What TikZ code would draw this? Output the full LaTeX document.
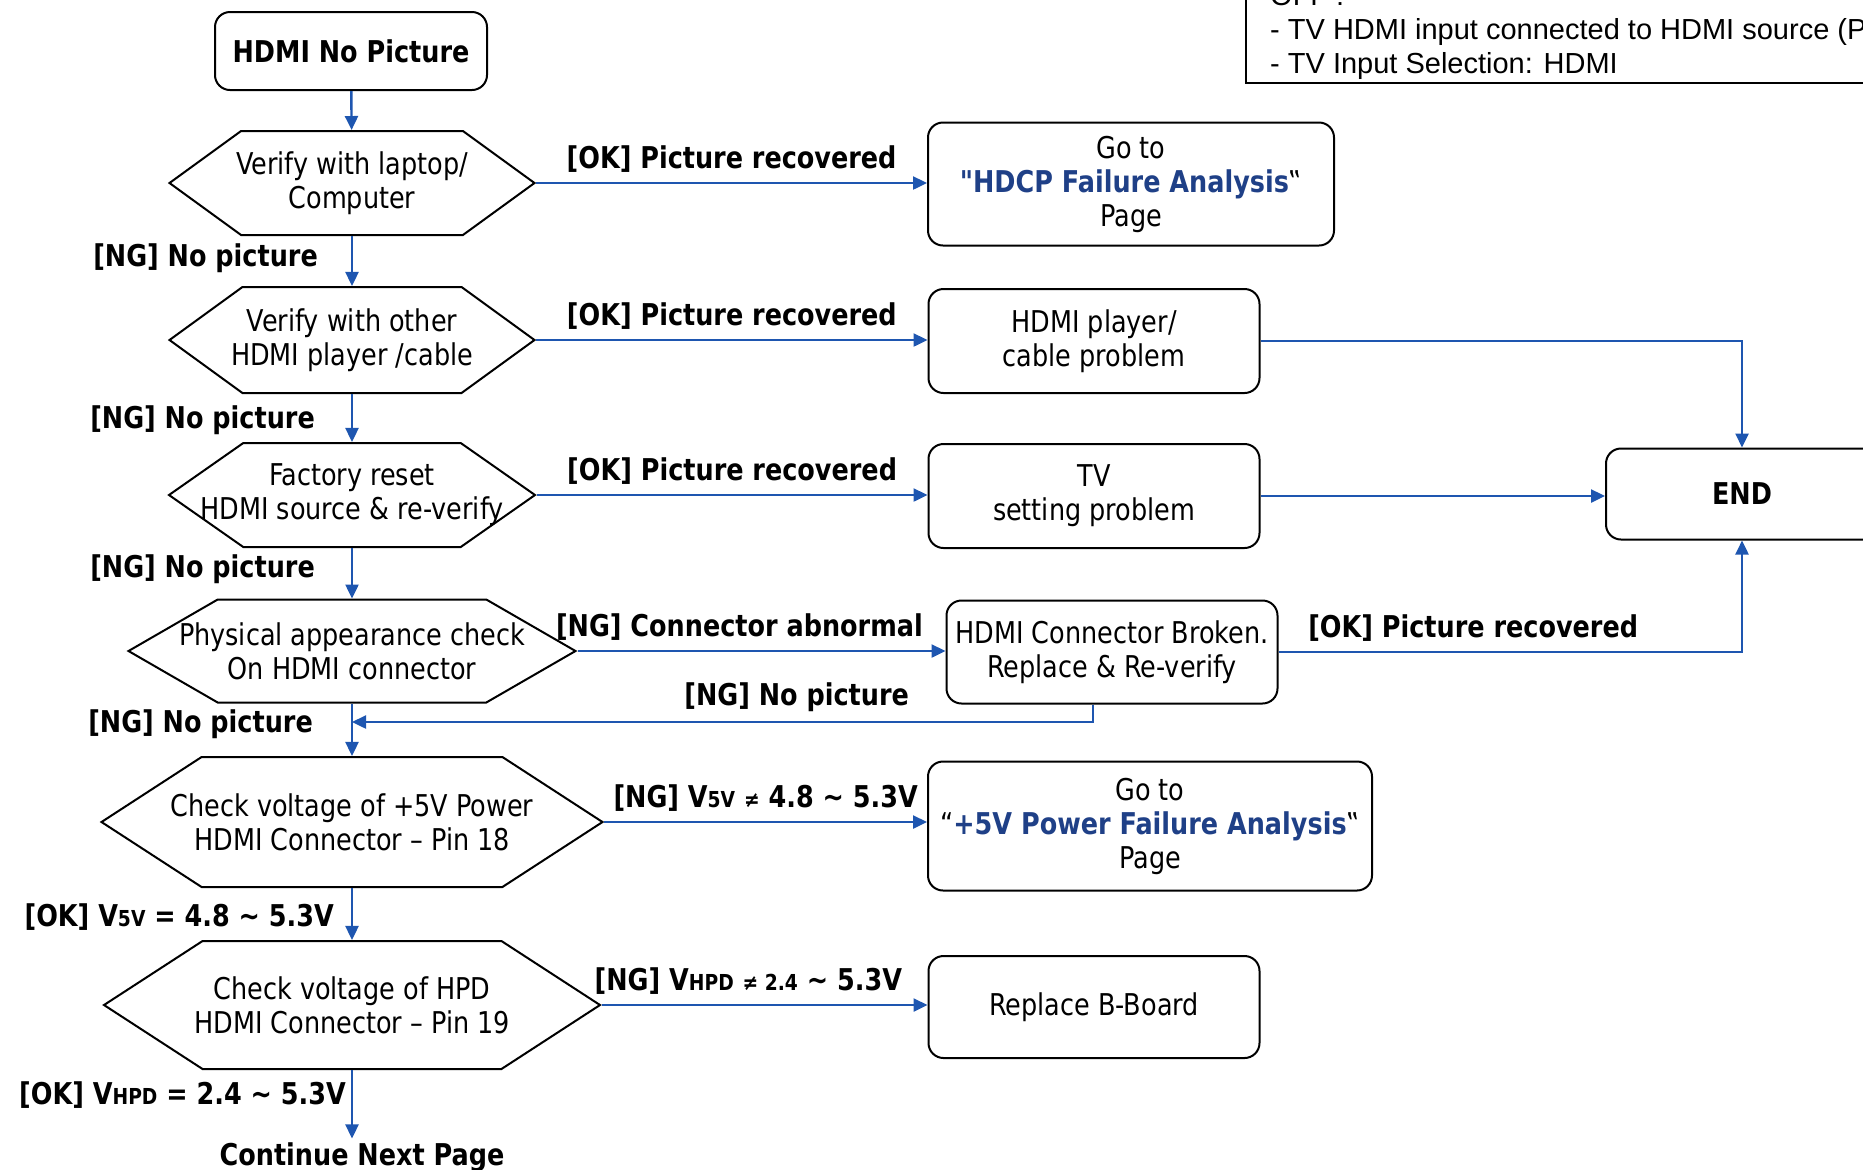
\documentclass[tikz,border=0pt]{standalone}
\usepackage{fontspec}
\setmainfont{DejaVu Sans}[FakeStretch=0.85]
\newfontfamily\notefont{Liberation Sans}
\usepackage{xcolor}
\usepackage{tikz}
\usetikzlibrary{arrows.meta,positioning,shapes.symbols,calc}

\definecolor{flowblue}{RGB}{30,86,176}
\definecolor{linkblue}{RGB}{31,64,135}
\newcommand{\smalltxt}[1]{{\fontsize{11pt}{11pt}\selectfont #1}}
% text line that may run over the hexagon's slanted edges
\newcommand{\hx}[1]{\makebox[0pt]{#1}}
\newcommand{\straightquote}{{\addfontfeatures{Ligatures=TeXOff}"}}

\begin{document}
\begin{tikzpicture}[
  x=0.5pt, y=-0.5pt,
  font=\fontsize{15pt}{17pt}\selectfont,
  box/.style={draw, line width=1pt, rounded corners=7.5pt, align=center, inner sep=2pt},
  hexa/.style={draw, line width=1pt, signal, signal to=west and east, signal pointer angle=#1, align=center, inner sep=1pt},
  arr/.style={-{Triangle[length=7pt,width=6.5pt]}, flowblue, line width=1.2pt},
  lbl/.style={font=\fontsize{15pt}{17pt}\selectfont\bfseries, text=black, inner sep=4.5pt},
  note/.style={draw, line width=1.2pt, align=left, inner xsep=12pt, inner ysep=1.5pt, font=\notefont\fontsize{14.5pt}{17pt}\selectfont}
]
  \useasboundingbox (0,0) rectangle (1863,1169);

  % main chain
  \node[box, font=\fontsize{15pt}{17pt}\selectfont\bfseries, minimum width=136pt, minimum height=39pt] (start) at (351,51) {HDMI No Picture};
  \node[hexa=72, minimum width=182.5pt, minimum height=52pt] (h1) at (352,183) {\hx{Verify with laptop/}\\\hx{Computer}};
  \node[hexa=72, minimum width=182.5pt, minimum height=53pt] (h2) at (352,340) {\hx{Verify with other}\\\hx{HDMI player /cable}};
  \node[hexa=70, minimum width=183pt, minimum height=52pt] (h3) at (352,495) {\hx{Factory reset}\\\hx{HDMI source \& re-verify}};
  \node[hexa=60, minimum width=223.5pt, minimum height=51.5pt] (h4) at (352,651) {\hx{Physical appearance check}\\\hx{On HDMI connector}};
  \node[hexa=66, minimum width=250.5pt, minimum height=65pt] (h5) at (352,822) {\hx{Check voltage of +5V Power}\\\hx{HDMI Connector -- Pin 18}};
  \node[hexa=66, minimum width=248pt, minimum height=64pt] (h6) at (352,1005) {\hx{Check voltage of HPD}\\\hx{HDMI Connector -- Pin 19}};
  \node[lbl, inner sep=1.75pt] (cont) at (362,1157) {Continue Next Page};

  % result boxes
  \node[box, minimum width=203pt, minimum height=61.5pt] (b1) at (1131,184) {Go to\\{\color{linkblue}\bfseries\straightquote HDCP Failure Analysis}‟\\Page};
  \node[box, minimum width=165.5pt, minimum height=52pt] (b2) at (1094,341) {HDMI player/\\cable problem};
  \node[box, minimum width=165.5pt, minimum height=52pt] (b3) at (1094,496) {TV\\setting problem};
  \node[box, minimum width=165.5pt, minimum height=51.5pt] (b4) at (1112,652) {HDMI Connector Broken.\\Replace \& Re-verify};
  \node[box, minimum width=222pt, minimum height=64.5pt] (b5) at (1150,826) {Go to\\“{\color{linkblue}\bfseries+5V Power Failure Analysis}‟\\Page};
  \node[box, minimum width=165.5pt, minimum height=51pt] (b6) at (1094,1007) {Replace B-Board};
  \node[box, font=\fontsize{15pt}{17pt}\selectfont\bfseries, minimum width=136pt, minimum height=45.5pt] (end) at (1742,494) {END};

  \node[note, anchor=south west] (setup) at (1245,84) {OFF :\\- TV HDMI input connected to HDMI source (PC)\\- TV Input Selection: HDMI};

  \coordinate (merge) at (352,722);

  % downward path
  \draw[arr] (start) -- (h1);
  \draw[arr] (h1) -- node[lbl, left=12pt, pos=0.45] {[NG] No picture} (h2);
  \draw[arr] (h2) -- node[lbl, left=13.5pt, pos=0.54] {[NG] No picture} (h3);
  \draw[arr] (h3) -- node[lbl, left=13.5pt, pos=0.41] {[NG] No picture} (h4);
  \draw[arr] (h4) -- node[lbl, left=14.5pt, pos=0.4] {[NG] No picture} (h5);
  \draw[arr] (h5) -- node[lbl, left=4pt, pos=0.55] {[OK] V\smalltxt{5V} = 4.8 \textasciitilde{} 5.3V} (h6);
  \draw[arr] (h6) -- node[lbl, left=-2pt, pos=0.36] {[OK] V\smalltxt{HPD} = 2.4 \textasciitilde{} 5.3V} (h6.south |- cont.north);

  % branches
  \draw[arr] (h1.east) -- node[lbl, above] {[OK] Picture recovered} (h1.east -| b1.west);
  \draw[arr] (h2.east) -- node[lbl, above] {[OK] Picture recovered} (h2.east -| b2.west);
  \draw[arr] (h3.east) -- node[lbl, above] {[OK] Picture recovered} (h3.east -| b3.west);
  \draw[arr] (h4.east) -- node[lbl, above, pos=0.44] {[NG] Connector abnormal} (h4.east -| b4.west);
  \draw[arr] (h5.east) -- node[lbl, above] {[NG] V\smalltxt{5V} \smalltxt{≠} 4.8 \textasciitilde{} 5.3V} (h5.east -| b5.west);
  \draw[arr] (h6.east) -- node[lbl, above, pos=0.45] {[NG] V\smalltxt{HPD} \smalltxt{≠ 2.4} \textasciitilde{} 5.3V} (h6.east -| b6.west);

  % to END and back
  \draw[arr] (b2.east) -| (end.north);
  \draw[arr] (b3.east) -- (b3.east -| end.west);
  \draw[arr] (b4.east) -| node[lbl, above, pos=0.21] {[OK] Picture recovered} (end.south);
  \draw[arr] ($(b4.south)+(-19,0)$) |- node[lbl, above, pos=0.7] {[NG] No picture} (merge);
\end{tikzpicture}
\end{document}
